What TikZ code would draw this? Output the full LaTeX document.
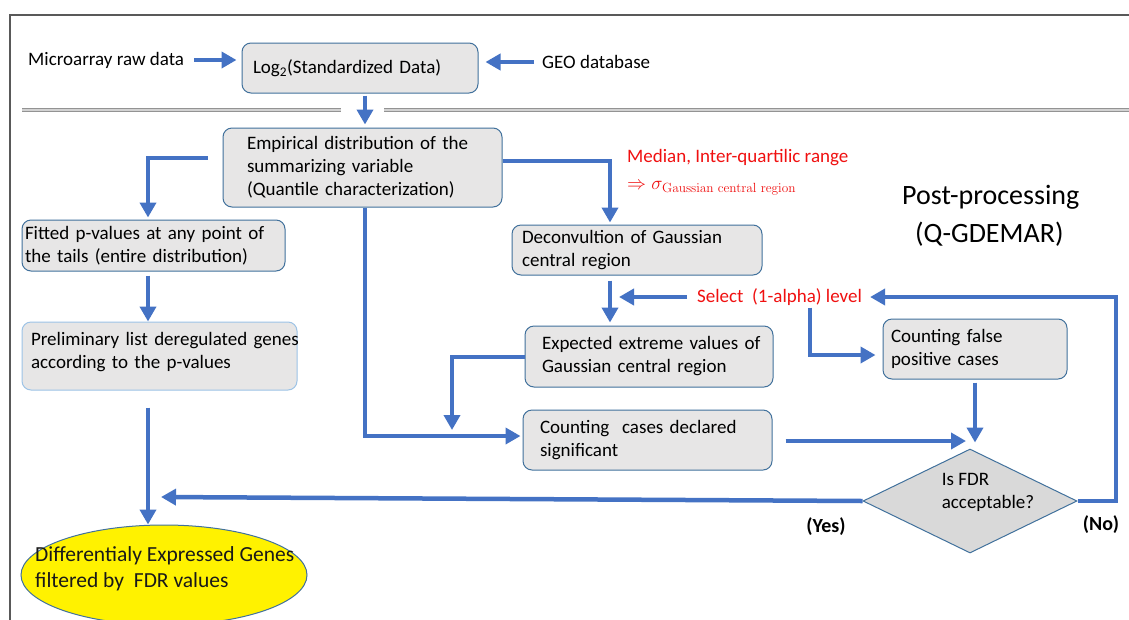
\RequirePackage{fix-cm}
\documentclass[tikz,border=0pt]{standalone}
\usepackage[no-math]{fontspec}
\setmainfont{Carlito}
\usetikzlibrary{arrows.meta,shapes.geometric}
\definecolor{flowblue}{HTML}{4472C4}
\definecolor{boxedge}{HTML}{41719C}
\definecolor{boxfill}{HTML}{E7E6E6}
\definecolor{prefedge}{HTML}{9DC3E6}
\definecolor{dfill}{HTML}{D9D9D9}
\definecolor{framegray}{HTML}{595959}
\definecolor{txtred}{HTML}{F01010}
\tikzset{
  arr/.style={draw=flowblue, line width=4.5pt, -{Triangle[length=15pt,width=16pt]}},
  box/.style={draw=boxedge, line width=1pt, fill=boxfill, rounded corners=9pt, align=left, inner ysep=0pt, font=\fontsize{19}{23}\selectfont},
  lbl/.style={inner sep=0pt, font=\fontsize{19}{23}\selectfont},
  divider/.style={draw=gray!85, double=gray!35, line width=1.3pt, double distance=1.2pt},
}
\begin{document}
\begin{tikzpicture}[x=1pt,y=-1pt]
\useasboundingbox (0,0) rectangle (1129,619);
\clip (0,0) rectangle (1129,619);
\fill[white] (0,0) rectangle (1129,619);
% frame
\draw[framegray, line width=1.5pt] (10,625) -- (10,15) -- (1135,15);
% dividers
\draw[divider] (22,110) -- (341,110);
\draw[divider] (384,110) -- (1135,110);

% boxes
\node[box, minimum width=236pt, minimum height=50pt, inner xsep=11pt, text width=214pt] (log) at (360,68) {Log\textsubscript{2}(Standardized Data)};
\node[box, minimum width=279pt, minimum height=79pt, inner xsep=24pt, text width=231pt] (emp) at (362.5,167.5) {\mbox{Empirical distribution of the}\\summarizing variable\\\mbox{(Quantile characterization)}};
\node[box, minimum width=263pt, minimum height=51pt, inner xsep=3pt, text width=257pt] (fit) at (153.5,245.5) {\mbox{Fitted p-values at any point of}\\\mbox{the tails (entire distribution)}};
\node[box, draw=prefedge, minimum width=275pt, minimum height=68pt, inner xsep=9pt, text width=257pt] (pre) at (159.5,356) {\mbox{Preliminary list deregulated genes}\\\mbox{according to the p-values}\\[-12pt]\mbox{}};
\node[box, minimum width=250pt, minimum height=50pt, inner xsep=10pt, text width=230pt] (dec) at (637,250) {\mbox{Deconvultion of Gaussian}\\central region};
\node[box, minimum width=248pt, minimum height=61pt, inner xsep=17pt, text width=214pt] (exp) at (649,356.5) {\mbox{Expected extreme values of}\\\mbox{Gaussian central region}};
\node[box, minimum width=184pt, minimum height=60pt, inner xsep=8pt, text width=168pt] (cfp) at (975,349) {Counting false\\positive cases};
\node[box, minimum width=249pt, minimum height=60pt, inner xsep=17pt, text width=215pt] (ccs) at (647.5,440) {\mbox{Counting~ cases declared}\\significant};
\node[diamond, draw=boxedge, fill=dfill, line width=1pt, minimum width=214pt, minimum height=104pt, inner sep=0pt] (fdr) at (970,501) {};
\node[lbl, align=left] (fdrtxt) at (988,492) {Is FDR\\acceptable?};
\node[ellipse, draw=boxedge, fill=yellow, line width=1pt, minimum width=286pt, minimum height=100pt, inner sep=0pt] (deg) at (164,575) {};
\node[lbl, anchor=west, align=left, font=\fontsize{21.5}{26}\selectfont, text=black!90] (degtxt) at (35,569) {Differentialy Expressed Genes\\filtered by~ FDR values};

% labels
\node[lbl, anchor=west] (mraw) at (28,60) {Microarray raw data};
\node[lbl, anchor=west] (geo) at (542,62) {GEO database};
\node[lbl, anchor=west, align=left, text=txtred] (med) at (627,172) {Median, Inter-quartilic range\\[4pt]$\Rightarrow \sigma_{\mathrm{Gaussian\ central\ region}}$};
\node[lbl, anchor=west, align=left, font=\fontsize{28}{38}\selectfont] (post) at (902,216) {Post-processing\\\hspace{13pt}(Q-GDEMAR)};
\node[lbl, anchor=west, text=txtred] (sel) at (697,297) {Select~ (1-alpha) level};
\node[lbl, font=\fontsize{20}{23}\selectfont\bfseries] (yes) at (826,527) {(Yes)};
\node[lbl, font=\fontsize{20}{23}\selectfont\bfseries] (no) at (1101,525) {(No)};

% coordinates
\coordinate (c0) at (365,0);
\coordinate (c1) at (148,158);
\coordinate (c2) at (610,161);
\coordinate (c3) at (365,436);
\coordinate (c4) at (619,297);
\coordinate (c5) at (810,355);
\coordinate (c6) at (452,357);
\coordinate (c7) at (452,430);
\coordinate (c8) at (966,441);
\coordinate (c10) at (161,497);
\coordinate (c11) at (1116,501);

% connectors
\draw[arr] ([xshift=10pt]mraw.east) -- ([xshift=-5pt]log.west |- mraw.east);
\draw[arr] ([xshift=-8pt]geo.west) -- ([xshift=7pt]log.east |- geo.west);
\draw[arr] ([yshift=-2pt]log.south -| c0) -- ([yshift=3pt]emp.north -| c0);
\draw[arr] ([xshift=-15pt]emp.west |- c1) -- (c1) -- ([yshift=2pt]fit.north -| c1);
\draw[arr] (emp.east |- c2) -- (c2) -- ([yshift=2pt]dec.north -| c2);
\draw[arr] (emp.south -| c3) -- (c3) -- ([xshift=-2pt]ccs.west |- c3);
\draw[arr] ([yshift=-4pt]fit.south -| c1) -- (pre.north -| c1);
\draw[arr] ([yshift=-17pt]pre.south -| c1) -- (deg.north -| c1);
\draw[arr] ([yshift=-5pt]dec.south -| c2) -- ([yshift=3pt]exp.north -| c2);
\draw[arr] ([xshift=-10pt]sel.west) -- (c4 |- sel.west);
\draw[arr] ([yshift=-2pt]sel.south -| c5) -- (c5) -- ([xshift=-7pt]cfp.west |- c5);
\draw[arr] (exp.west |- c6) -- (c6) -- (c7);
\draw[arr] ([xshift=13pt]ccs.east |- c8) -- (c8);
\draw[arr] ([yshift=-3pt]cfp.south) -- ([yshift=6pt]fdr.north -| cfp.south);
\draw[arr] (fdr.west) -- (c10);
\draw[arr] (fdr.east) -- (c11) |- ([xshift=8pt]sel.east);
\end{tikzpicture}
\end{document}
